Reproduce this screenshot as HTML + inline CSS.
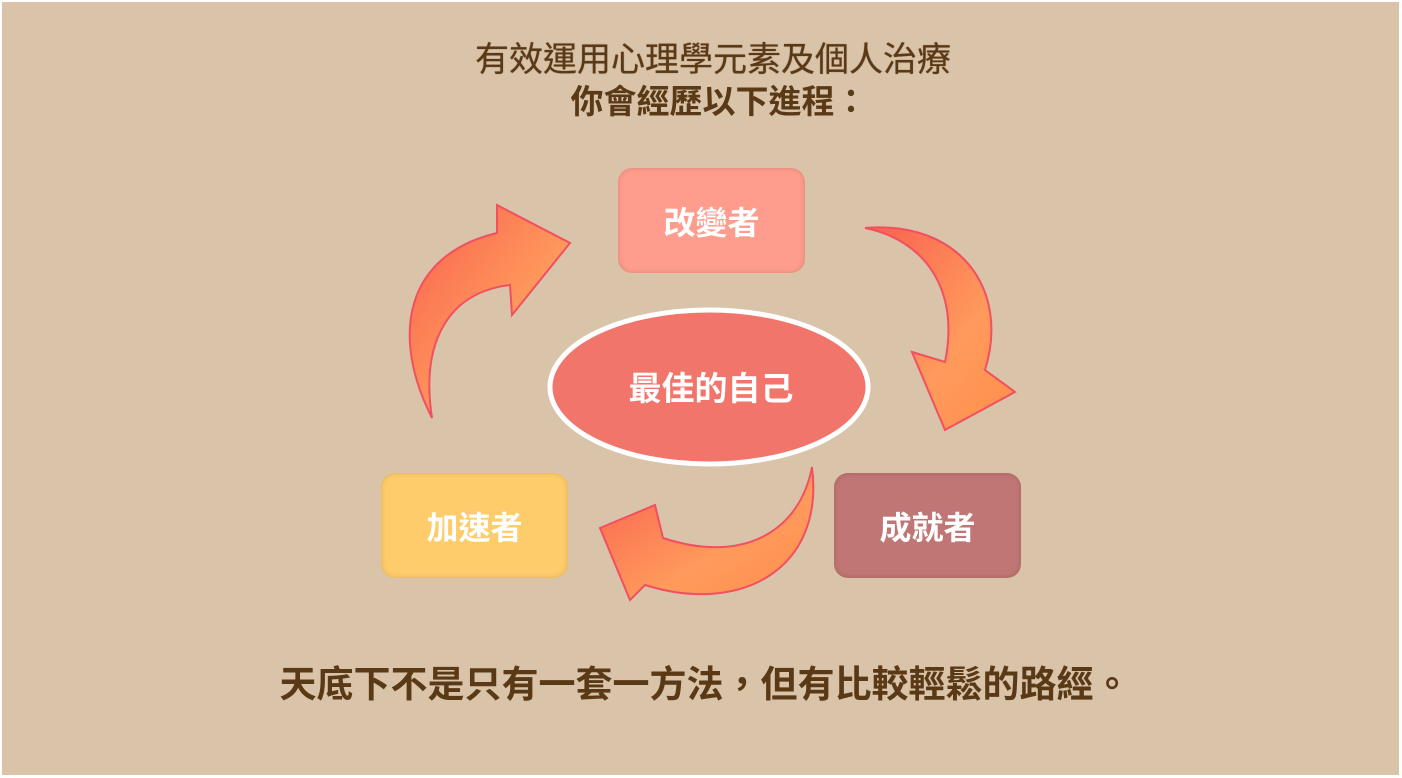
<!DOCTYPE html>
<html><head><meta charset="utf-8"><style>
html,body{margin:0;padding:0;}
body{width:1402px;height:778px;background:#fff;position:relative;overflow:hidden;font-family:"Liberation Sans","Noto Sans CJK TC",sans-serif;}
.bg{position:absolute;left:2px;top:2px;width:1397px;height:773px;background:#d9c3a9;}
.t{position:absolute;left:0;width:1402px;text-align:center;color:#5a3a16;font-weight:bold;line-height:1;}
.box{position:absolute;border-radius:14px;color:#fff;font-weight:bold;font-size:32px;display:flex;align-items:center;justify-content:center;box-shadow:inset 0 0 6px rgba(0,0,0,.15);}
</style></head><body>
<div class="bg"></div>
<div class="t" style="top:43px;left:12px;font-size:34px;font-weight:normal;text-shadow:0 0 0.8px #5a3a16;">有效運用心理學元素及個人治療</div>
<div class="t" style="top:85px;left:18px;font-size:33px;">你會經歷以下進程：</div>
<svg style="position:absolute;left:0;top:0" width="1402" height="778">
<defs>
<linearGradient id="g" x1="0" y1="0" x2="1" y2="1"><stop offset="0" stop-color="#f9604f"/><stop offset="0.6" stop-color="#ff9a5c"/><stop offset="1" stop-color="#ff8e4a"/></linearGradient>
</defs>
<path d="M432,418 C390,335 405,255 497,233 L497,205 L570,243 L512,315 L510,285 C450,292 420,340 432,418 Z" fill="url(#g)" stroke="#f25060" stroke-width="2"/>
<path d="M865,228 C960,220 1010,290 985,370 L1015,392 L945,430 L912,352 L945,362 C960,290 925,240 865,228 Z" fill="url(#g)" stroke="#f25060" stroke-width="2"/>
<path d="M812,467 C825,570 740,615 645,585 L630,600 L600,528 L655,505 L663,538 C745,565 800,530 812,467 Z" fill="url(#g)" stroke="#f25060" stroke-width="2"/>
<ellipse cx="709" cy="387" rx="159" ry="77" fill="#f2756b" stroke="#fff" stroke-width="5"/>
<text x="711" y="400" text-anchor="middle" fill="#fff" font-size="33" font-weight="bold" font-family="Liberation Sans, Noto Sans CJK TC, sans-serif">最佳的自己</text>
</svg>
<div class="box" style="left:618px;top:168px;width:187px;height:105px;background:#fe9d8d;">改變者</div>
<div class="box" style="left:834px;top:473px;width:187px;height:105px;background:#c07674;">成就者</div>
<div class="box" style="left:381px;top:473px;width:187px;height:105px;background:#fecc6a;">加速者</div>
<div class="t" style="top:666px;left:4px;font-size:37px;">天底下不是只有一套一方法，但有比較輕鬆的路經。</div>
</body></html>
